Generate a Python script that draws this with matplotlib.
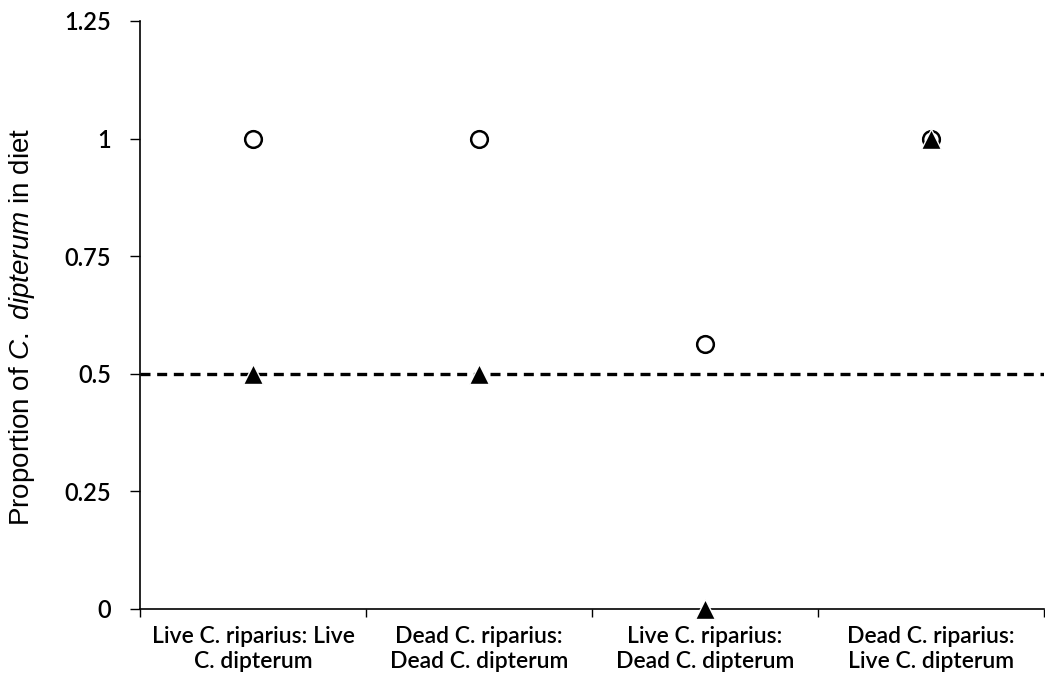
import numpy as np
import matplotlib.pyplot as plt

plt.rcParams["mathtext.fontset"] = "custom"
plt.rcParams["mathtext.rm"] = "Liberation Sans"
plt.rcParams["mathtext.it"] = "Liberation Sans:italic"

categories = [
    "Live C. riparius: Live\nC. dipterum",
    "Dead C. riparius:\nDead C. dipterum",
    "Live C. riparius:\nDead C. dipterum",
    "Dead C. riparius:\nLive C. dipterum",
]
circle_values = [1.0, 1.0, 0.5625, 1.0]
triangle_values = [0.5, 0.5, 0.0, 1.0]
y_ticks = [0, 0.25, 0.5, 0.75, 1, 1.25]
y_tick_labels = ["0", "0.25", "0.5", "0.75", "1", "1.25"]
reference_line = 0.5

fig = plt.figure(figsize=(10.45, 6.97), dpi=100)
ax = fig.add_axes([140 / 1045, 88 / 697, 904 / 1045, 588 / 697])

x = np.arange(len(categories)) + 0.5

ax.axhline(reference_line, color="black", linewidth=2.4, linestyle=(0, (3.0, 2.0)), zorder=1)
ax.plot(x, circle_values, linestyle="none", marker="o", markersize=12,
        markerfacecolor="white", markeredgecolor="black", markeredgewidth=1.8,
        clip_on=False, zorder=3)
ax.plot(x, triangle_values, linestyle="none", marker="^", markersize=14,
        markerfacecolor="black", markeredgecolor="white", markeredgewidth=1.0,
        clip_on=False, zorder=4)

ax.set_xlim(0, len(categories))
ax.set_ylim(0, 1.25)

# ticks at category boundaries, labels at centres
ax.set_xticks(np.arange(len(categories) + 1))
ax.set_xticklabels([])
ax.set_xticks(x, minor=True)
ax.set_xticklabels(categories, minor=True, fontsize=16.5, family="Lato",
                   fontweight="semibold", linespacing=1.25)
ax.tick_params(axis="x", which="minor", length=0, pad=12)
ax.tick_params(axis="x", which="major", length=6, width=1)

ax.set_yticks(y_ticks)
ax.set_yticklabels(y_tick_labels, fontsize=17, family="Lato", fontweight="semibold")
ax.tick_params(axis="y", length=7, width=1, pad=14)

for side in ["top", "right"]:
    ax.spines[side].set_visible(False)
for side in ["left", "bottom"]:
    ax.spines[side].set_linewidth(1.2)

ax.set_ylabel("Proportion of $\\it{C.}$ $\\it{dipterum}$ in diet", fontsize=20,
              family="Liberation Sans")
ax.yaxis.set_label_coords(-0.114, 0.48)

fig.savefig("out.png", dpi=100)
